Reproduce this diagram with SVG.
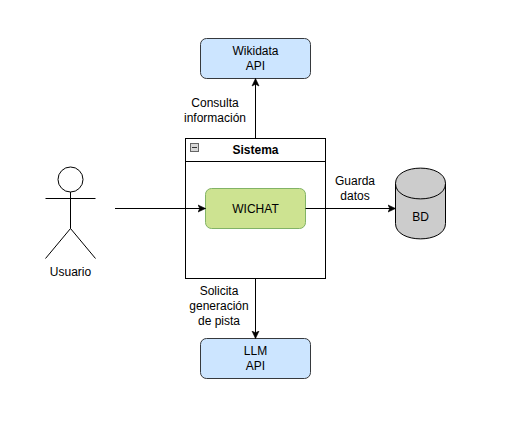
<svg xmlns="http://www.w3.org/2000/svg" width="523" height="424" viewBox="0 0 523 424">
<style>
text{font-family:"Liberation Sans",Arial,sans-serif;font-size:12px;fill:#000;text-anchor:middle}
.l{fill:none;stroke:#000;stroke-width:1}
.api{fill:#cce5ff;stroke:#36393d;stroke-width:1}
.c{fill:none;stroke:#000;stroke-width:1;marker-end:url(#a)}
</style>
<defs>
<marker id="a" markerUnits="userSpaceOnUse" markerWidth="9" markerHeight="9" refX="8" refY="4.5" orient="auto"><path d="M0.5 1L8 4.5L0.5 8L2.3 4.5Z" fill="#000" stroke="#000" stroke-width="0.6"/></marker>
</defs>
<rect width="523" height="424" fill="#fff"/>
<g id="wikidata"><rect class="api" x="200.500" y="38.500" width="110" height="40" rx="6"/><text x="255.500" y="54.500">Wikidata</text><text x="255.500" y="69.500">API</text></g>
<g id="llm"><rect class="api" x="200.500" y="338.500" width="110" height="40" rx="6"/><text x="255.500" y="354.500">LLM</text><text x="255.500" y="369.500">API</text></g>
<g id="sistema">
<rect x="185.500" y="138.500" width="140" height="140" fill="#fff" stroke="#000"/>
<path class="l" d="M185.500 161.500H325.500"/>
<rect x="190.500" y="143.500" width="8" height="8" fill="#d8d8d8" stroke="#666"/><path d="M192 147.500H197" stroke="#333" stroke-width="1"/>
<text x="255.500" y="154" style="font-weight:700">Sistema</text>
</g>
<g id="wichat"><rect x="205.500" y="188.500" width="100" height="40" rx="6" fill="#cde391" stroke="#82b366"/><text x="255.500" y="212.500">WICHAT</text></g>
<g id="usuario">
<circle class="l" cx="70.500" cy="179.500" r="12.500"/>
<path class="l" d="M70.500 192V228.500M45.500 198.500H95.500M70.500 228.500L45.500 258.500M70.500 228.500L95.500 258.500"/>
<text x="70.500" y="276">Usuario</text>
</g>
<g id="bd">
<path d="M395.500 183.500C395.500 163 445.500 163 445.500 183.500V223.500C445.500 244 395.500 244 395.500 223.500Z" fill="#ccc" stroke="#000"/>
<path class="l" d="M395.500 183.500C395.500 204 445.500 204 445.500 183.500"/>
<text x="420.500" y="221">BD</text>
</g>
<g id="connectors">
<path class="c" d="M255.500 138.500V78.500"/>
<path class="c" d="M255.500 278.500V338.500"/>
<path class="c" d="M115 208.500H205.500"/>
<path class="c" d="M305.500 208.500H395.500"/>
</g>
<g id="labels">
<text x="215" y="107">Consulta</text><text x="215" y="122">información</text>
<text x="355" y="185">Guarda</text><text x="355" y="200">datos</text>
<text x="219" y="295">Solicita</text><text x="219" y="310">generación</text><text x="219" y="325">de pista</text>
</g>
</svg>
